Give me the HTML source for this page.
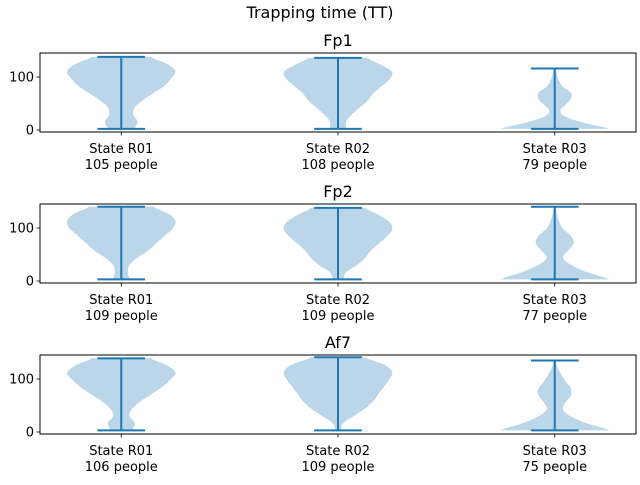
<!DOCTYPE html>
<html><head><meta charset="utf-8"><style>
body{margin:0;background:#fff;font-family:"Liberation Sans","DejaVu Sans",sans-serif}
svg text{font-family:"DejaVu Sans","Liberation Sans",sans-serif}
</style></head><body>
<svg id="c" width="640" height="480" xmlns="http://www.w3.org/2000/svg">
<rect width="640" height="480" fill="#fff"/>
<text x="320" y="18" text-anchor="middle" font-size="16">Trapping time (TT)</text>
</svg>
<script>
const panels = ["Fp1","Fp2","Af7"];
const categories = ["State R01","State R02","State R03"];
const counts = [[105,108,79],[109,109,77],[106,109,75]];
const mins = [[2,2,2],[3,3,3],[3,3,3]];
const maxs = [[138,136,116],[140,138,140],[139,141,135]];
const densities = [
 [[0.25,0.3,0.22,0.25,0.4,0.6,0.8,0.92,1.0,0.85,0.55],
  [0.15,0.15,0.25,0.4,0.55,0.65,0.8,0.95,1.0,0.8,0.55],
  [1.0,0.55,0.2,0.1,0.2,0.3,0.3,0.15,0.08,0.04,0.02]],
 [[0.15,0.12,0.15,0.3,0.5,0.65,0.8,0.95,1.0,0.88,0.6],
  [0.1,0.15,0.35,0.5,0.6,0.75,0.9,1.0,0.95,0.75,0.5],
  [1.0,0.6,0.3,0.15,0.25,0.35,0.3,0.15,0.08,0.04,0.02]],
 [[0.2,0.25,0.15,0.2,0.35,0.55,0.75,0.9,1.0,0.85,0.55],
  [0.05,0.1,0.3,0.5,0.65,0.75,0.85,0.95,1.0,0.85,0.5],
  [1.0,0.6,0.3,0.15,0.2,0.3,0.3,0.2,0.12,0.05,0.02]]
];
const yTicks = [0,100];

const svg = document.getElementById('c');
const NS = "http://www.w3.org/2000/svg";
function mk(tag, attrs, parent){const e=document.createElementNS(NS,tag);for(const k in attrs)e.setAttribute(k,attrs[k]);(parent||svg).appendChild(e);return e;}
const axL=40, axR=636, xMin=0.625, xMax=3.375;
const tops=[53,204,355], H=79, yMin=-3.8, yMax=145.3;
const xs = v => axL + (v-xMin)/(xMax-xMin)*(axR-axL);
const pxPerUnit = (axR-axL)/(xMax-xMin);
const blue="#1f77b4";

function cr(arr, t){
  const n=arr.length, i=Math.min(Math.floor(t),n-2), f=t-i;
  const p0=arr[Math.max(i-1,0)],p1=arr[i],p2=arr[i+1],p3=arr[Math.min(i+2,n-1)];
  const v=0.5*((2*p1)+(-p0+p2)*f+(2*p0-5*p1+4*p2-p3)*f*f+(-p0+3*p1-3*p2+p3)*f*f*f);
  return Math.max(v,0.005);
}

panels.forEach((name,p)=>{
  const top=tops[p];
  const ys = v => top + (yMax-v)/(yMax-yMin)*H;
  const g=mk('g',{});
  
  
  const t=mk('text',{x:(axL+axR)/2,y:top-7,'text-anchor':'middle','font-size':'16'},g);
  t.textContent=name;
  
  
  categories.forEach((cat,i)=>{
    const cx=xs(i+1), d=densities[p][i], lo=mins[p][i], hi=maxs[p][i];
    const n=d.length, steps=80, left=[], right=[];
    for(let s=0;s<=steps;s++){
      const tt=s/steps*(n-1), val=lo+(hi-lo)*s/steps;
      const w=cr(d,tt)*0.25*pxPerUnit;
      right.push([cx+w,ys(val)]); left.push([cx-w,ys(val)]);
    }
    const pts=right.concat(left.reverse()).map(q=>q[0].toFixed(1)+','+q[1].toFixed(1)).join(' ');
    const poly=mk('polygon',{points:pts,fill:blue,'fill-opacity':'0.3',stroke:'none'},g);
    
    
    const capW=0.11*pxPerUnit;
    const ln=mk('path',{d:`M${cx},${ys(lo)}V${ys(hi)}M${cx-capW},${ys(lo)}H${cx+capW}M${cx-capW},${ys(hi)}H${cx+capW}`,stroke:blue,'stroke-width':'2',fill:'none'},g);
    
    
    mk('line',{x1:cx,x2:cx,y1:top+H,y2:top+H+3.5,stroke:'#000','stroke-width':'0.8'},g);
    const l1=mk('text',{x:cx,y:top+H+21,'text-anchor':'middle','font-size':'13'},g);
    l1.textContent=cat;
    
    
    const l2=mk('text',{x:cx,y:top+H+37,'text-anchor':'middle','font-size':'13'},g);
    l2.textContent=counts[p][i]+' people';
    
    
  });
  yTicks.forEach(v=>{
    mk('line',{x1:axL-3.5,x2:axL,y1:ys(v),y2:ys(v),stroke:'#000','stroke-width':'0.8'},g);
    const tl=mk('text',{x:axL-6,y:ys(v)+4.5,'text-anchor':'end','font-size':'13'},g);
    tl.textContent=v;
    
    
  });
  const fr=mk('rect',{x:axL,y:top,width:axR-axL,height:H,fill:'none',stroke:'#000','stroke-width':'1'},g);
  
  
});
</script>
</body></html>
